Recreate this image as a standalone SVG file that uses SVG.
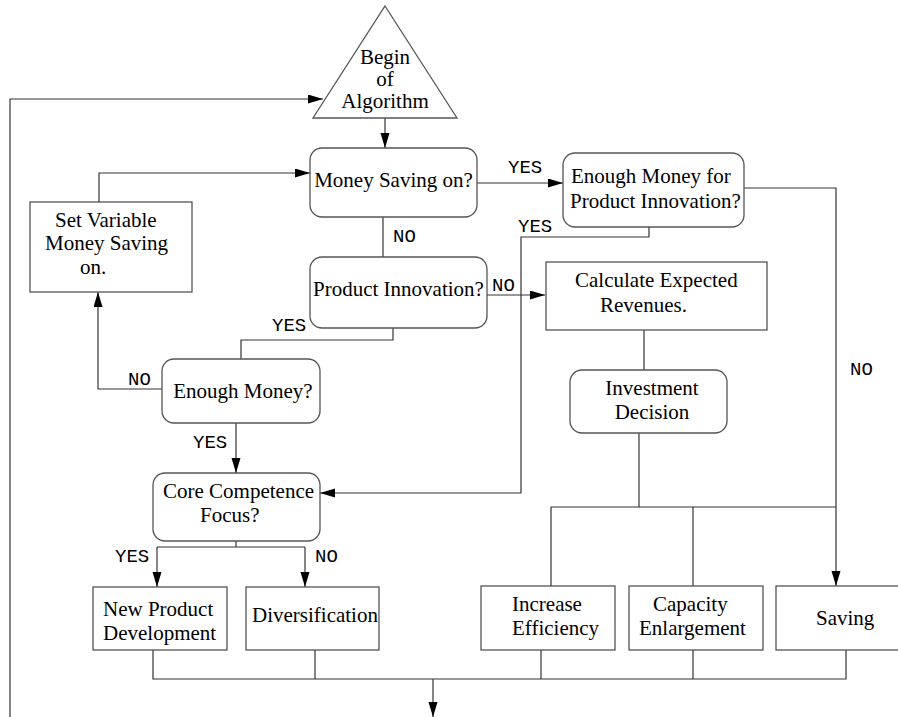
<svg xmlns="http://www.w3.org/2000/svg" width="898" height="717" viewBox="0 0 898 717">
<style>
.box{fill:#fff;stroke:#555;stroke-width:1.3}
.t{font-family:"Liberation Serif","Times New Roman",serif;font-size:21px;fill:#000}
.c{text-anchor:middle}
.m{font-family:"Liberation Mono","Courier New",monospace;font-size:19px;fill:#000}
.ln{fill:none;stroke:#333;stroke-width:1.2}
</style>
<defs>
<marker id="ah" markerUnits="userSpaceOnUse" markerWidth="16" markerHeight="10" refX="15" refY="4.5" orient="auto">
<path d="M0,0 L15,4.5 L0,9 z" fill="#000"/>
</marker>
</defs>
<rect width="898" height="717" fill="#fff"/>
<g id="connectors">
<path class="ln" d="M10,717 V99 H323" marker-end="url(#ah)"/>
<path class="ln" d="M385,115 V148" marker-end="url(#ah)"/>
<path class="ln" d="M99,202 V173 H310" marker-end="url(#ah)"/>
<path class="ln" d="M477,183 H563" marker-end="url(#ah)"/>
<path class="ln" d="M383,217 V257"/>
<path class="ln" d="M487,295 H545" marker-end="url(#ah)"/>
<path class="ln" d="M744,188 H836 V586" marker-end="url(#ah)"/>
<path class="ln" d="M649,227 V237 H521 V493 H320" marker-end="url(#ah)"/>
<path class="ln" d="M644,330 V370"/>
<path class="ln" d="M639,433 V507"/>
<path class="ln" d="M551,586 V507 H836"/>
<path class="ln" d="M693,507 V586"/>
<path class="ln" d="M393,328 V340 H241 V359"/>
<path class="ln" d="M162,389 H98 V292" marker-end="url(#ah)"/>
<path class="ln" d="M236,423 V473" marker-end="url(#ah)"/>
<path class="ln" d="M236,541 V547"/>
<path class="ln" d="M157,547 H305"/>
<path class="ln" d="M157,547 V587" marker-end="url(#ah)"/>
<path class="ln" d="M305,547 V587" marker-end="url(#ah)"/>
<path class="ln" d="M153,650 V679 H846 V650"/>
<path class="ln" d="M315,650 V679"/>
<path class="ln" d="M541,650 V679"/>
<path class="ln" d="M693,650 V679"/>
<path class="ln" d="M433,679 V717" marker-end="url(#ah)"/>
<text class="m" x="508" y="173">YES</text>
<text class="m" x="393" y="242">NO</text>
<text class="m" x="518" y="232">YES</text>
<text class="m" x="492" y="291">NO</text>
<text class="m" x="850" y="375">NO</text>
<text class="m" x="272" y="331">YES</text>
<text class="m" x="128" y="385">NO</text>
<text class="m" x="193" y="448">YES</text>
<text class="m" x="115" y="562">YES</text>
<text class="m" x="315" y="562">NO</text>
</g>
<g id="begin">
<polygon class="box" points="385,6 457,118 313,118"/>
<text class="t c" x="385" y="64" font-size="19">Begin</text>
<text class="t c" x="385" y="86" font-size="19">of</text>
<text class="t c" x="385" y="108" font-size="19">Algorithm</text>
</g>
<g id="money-saving">
<rect class="box" x="310" y="148" width="167" height="69" rx="12"/>
<text class="t c" x="393.5" y="187">Money Saving on?</text>
</g>
<g id="enough-money-pi">
<rect class="box" x="563" y="153" width="181" height="74" rx="12"/>
<text class="t" x="571" y="183">Enough Money for</text>
<text class="t" x="570" y="208">Product Innovation?</text>
</g>
<g id="set-variable">
<rect class="box" x="30" y="202" width="162" height="90"/>
<text class="t" x="55" y="227">Set Variable</text>
<text class="t" x="45" y="250">Money Saving</text>
<text class="t" x="80" y="274">on.</text>
</g>
<g id="product-innovation">
<rect class="box" x="310" y="257" width="177" height="71" rx="12"/>
<text class="t c" x="398.5" y="296">Product Innovation?</text>
</g>
<g id="calculate">
<rect class="box" x="546" y="262" width="221" height="68"/>
<text class="t" x="575" y="287">Calculate Expected</text>
<text class="t" x="600" y="312">Revenues.</text>
</g>
<g id="investment">
<rect class="box" x="570" y="370" width="157" height="63" rx="12"/>
<text class="t c" x="652" y="395">Investment</text>
<text class="t c" x="652" y="419">Decision</text>
</g>
<g id="enough-money">
<rect class="box" x="162" y="359" width="158" height="64" rx="12"/>
<text class="t c" x="243" y="398">Enough Money?</text>
</g>
<g id="core-competence">
<rect class="box" x="153" y="473" width="167" height="68" rx="12"/>
<text class="t" x="163" y="498">Core Competence</text>
<text class="t" x="200" y="522">Focus?</text>
</g>
<g id="new-product">
<rect class="box" x="93" y="587" width="134" height="63"/>
<text class="t" x="103" y="616">New Product</text>
<text class="t" x="103" y="640">Development</text>
</g>
<g id="diversification">
<rect class="box" x="246" y="587" width="133" height="63"/>
<text class="t" x="252" y="622">Diversification</text>
</g>
<g id="increase-efficiency">
<rect class="box" x="481" y="586" width="134" height="64"/>
<text class="t" x="512" y="611">Increase</text>
<text class="t" x="512" y="635">Efficiency</text>
</g>
<g id="capacity">
<rect class="box" x="629" y="586" width="134" height="64"/>
<text class="t" x="653" y="611">Capacity</text>
<text class="t" x="639" y="635">Enlargement</text>
</g>
<g id="saving">
<rect class="box" x="776" y="586" width="130" height="64"/>
<text class="t" x="816" y="625">Saving</text>
</g>
</svg>
